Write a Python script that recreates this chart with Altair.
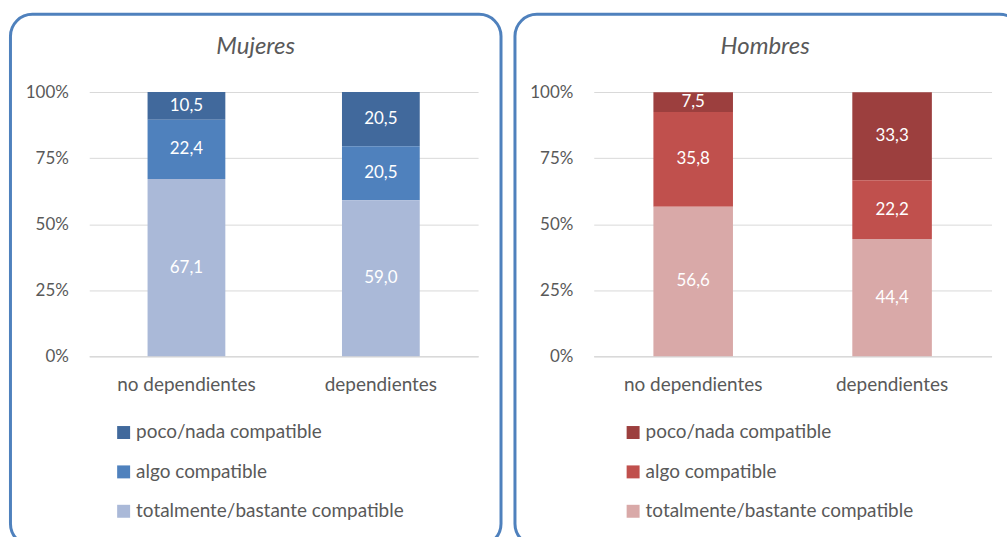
import altair as alt
import pandas as pd

categories = ["no dependientes", "dependientes"]
levels = ["poco/nada compatible", "algo compatible", "totalmente/bastante compatible"]
stack_order = [2, 1, 0]

mujeres_poco = [10.5, 20.5]
mujeres_algo = [22.4, 20.5]
mujeres_total = [67.1, 59.0]

hombres_poco = [7.5, 33.3]
hombres_algo = [35.8, 22.2]
hombres_total = [56.6, 44.4]

mujeres_colors = ["#41699C", "#4F81BD", "#AAB9D8"]
hombres_colors = ["#9C3F3E", "#C0504D", "#D9A9A8"]

FONT = "Lato"
GREY = "#595959"
H = 265


def panel(title, poco, algo, total, colors, width, title_x, legend_x, right_ext):
    rows = []
    for series, lev, o in zip([poco, algo, total], levels, stack_order):
        for c, v in zip(categories, series):
            rows.append({"cat": c, "level": lev, "value": v, "ord": o})
    df = pd.DataFrame(rows)
    base = alt.Chart(df)

    xenc = alt.X(
        "cat:N",
        sort=categories,
        title=None,
        scale=alt.Scale(paddingInner=0.6, paddingOuter=0.3),
        axis=alt.Axis(
            labelAngle=0, labelFontSize=19, labelColor=GREY, labelPadding=19,
            ticks=False, domain=True, domainColor="#D9D9D9", domainWidth=1.5,
            grid=False, labelFont=FONT,
        ),
    )

    bars = base.mark_bar().encode(
        x=xenc,
        y=alt.Y(
            "value:Q", stack="zero", title=None,
            scale=alt.Scale(domain=[0, 100]),
            axis=alt.Axis(
                values=[0, 25, 50, 75, 100], labelExpr="datum.value + '%'",
                labelFontSize=17, labelColor=GREY, labelPadding=21, ticks=False,
                domain=False, grid=True, gridColor="#D9D9D9", gridWidth=1,
                labelFont=FONT,
            ),
        ),
        color=alt.Color(
            "level:N",
            scale=alt.Scale(domain=levels, range=colors),
            legend=alt.Legend(
                title=None, orient="none", legendX=legend_x, legendY=332,
                direction="vertical", symbolType="square", symbolSize=169,
                symbolStrokeWidth=0, labelFontSize=19, labelColor=GREY,
                labelFont=FONT, labelOffset=3, rowPadding=19.5, labelLimit=400,
            ),
        ),
        order=alt.Order("ord:Q", sort="ascending"),
    )

    labels = base.transform_stack(
        stack="value", groupby=["cat"], as_=["y0", "y1"],
        sort=[alt.SortField("ord", order="ascending")],
    ).transform_calculate(
        mid="(datum.y0 + datum.y1) / 2",
        lab="replace(format(datum.value, '.1f'), '.', ',')",
    ).mark_text(color="white", fontSize=17, font=FONT).encode(
        x=alt.X("cat:N", sort=categories),
        y=alt.Y("mid:Q"),
        text="lab:N",
    )

    frame = alt.Chart(alt.Data(values=[{"k": 1}])).mark_rect(
        fill="white", fillOpacity=0, stroke="#4F81BD", strokeWidth=3, cornerRadius=22,
    ).encode(
        x=alt.value(-79), x2=alt.value(width + right_ext),
        y=alt.value(-78), y2=alt.value(455),
    )

    head = alt.Chart(alt.Data(values=[{"t": title}])).mark_text(
        fontStyle="italic", fontSize=24, color=GREY, font=FONT, baseline="middle",
        align="center",
    ).encode(
        x=alt.value(title_x), y=alt.value(-45), text="t:N",
    )

    return alt.layer(frame, bars, labels, head).properties(width=width, height=H)


left = panel("Mujeres", mujeres_poco, mujeres_algo, mujeres_total,
             mujeres_colors, 390, 167, 25, 23)
right = panel("Hombres", hombres_poco, hombres_algo, hombres_total,
              hombres_colors, 399, 172, 30, 30)

chart = alt.hconcat(left, right, spacing=10).resolve_scale(
    color="independent"
).resolve_legend(color="independent").configure(
    padding={"left": 8.5, "top": 11.5, "right": -16.5, "bottom": -9.5},
    background="white", font=FONT,
).configure_view(stroke=None)

chart.save("out.html", embed_options={"renderer": "svg", "actions": False})
